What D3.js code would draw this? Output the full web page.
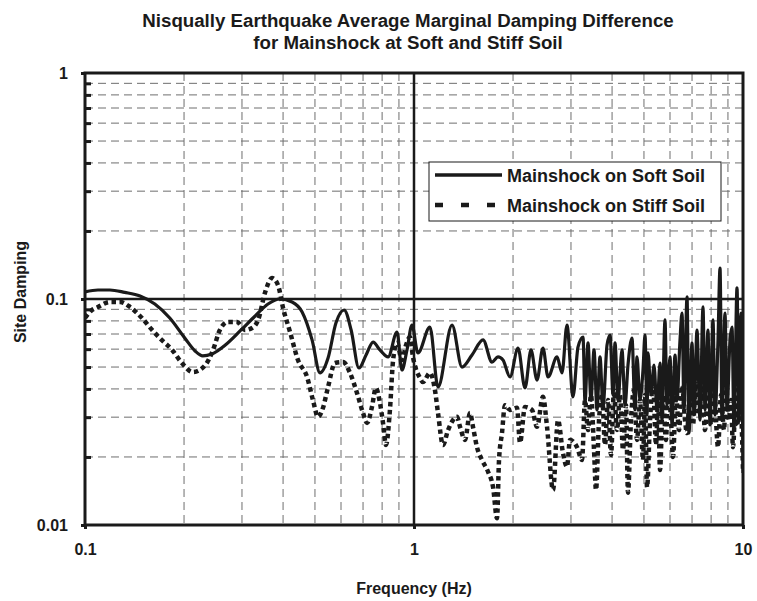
<!DOCTYPE html>
<html>
<head>
<meta charset="utf-8">
<script src="https://cdn.jsdelivr.net/npm/d3@7"></script>
<style>
  body { margin: 0; background: #fff; }
  svg { display: block; font-family: "Liberation Sans", Arial, sans-serif; }
</style>
</head>
<body>
<svg id="chart" width="757" height="601"></svg>
<script>
// ---------------- DATA ----------------
const titleLines = ["Nisqually Earthquake Average Marginal Damping Difference", "for Mainshock at Soft and Stiff Soil"];
const xAxisTitle = "Frequency (Hz)";
const yAxisTitle = "Site Damping";
const seriesNames = ["Mainshock on Soft Soil", "Mainshock on Stiff Soil"];
const xTickValues = [0.1, 1, 10];
const xTickLabels = ["0.1", "1", "10"];
const yTickValues = [0.01, 0.1, 1];
const yTickLabels = ["0.01", "0.1", "1"];
const xMinorValues = [0.2,0.3,0.4,0.5,0.6,0.7,0.8,0.9,2,3,4,5,6,7,8,9];
const yMinorValues = [0.02,0.03,0.04,0.05,0.06,0.07,0.08,0.09,0.2,0.3,0.4,0.5,0.6,0.7,0.8,0.9];

// Soft soil (solid)
const softFreq = [0.100,0.1095,0.119,0.132,0.147,0.163,0.181,0.201,0.216,0.228,0.243,0.267,0.296,0.329,0.360,0.391,0.426,0.457,0.490,0.518,0.548,0.579,0.613,0.644,0.680,0.715,0.751,0.788,0.834,0.888,0.919,0.952,0.986,1.028,1.118,1.183,1.305,1.399,1.501,1.621,1.726,1.800,1.864,1.958,2.071,2.175,2.268,2.365,2.466,2.555,2.721,2.818,2.917,3.043,3.151,
  3.264,3.310,3.380,3.451,3.525,3.599,3.676,3.754,3.861,3.943,4.027,4.083,4.169,4.288,4.379,4.471,4.598,4.696,4.762,4.864,4.966,5.037,5.109,5.145,5.254,5.364,5.478,5.595,5.673,5.793,5.875,6.001,6.085,6.214,6.302,6.435,6.526,6.618,6.758,6.853,6.998,7.097,7.247,7.402,7.558,7.664,7.827,7.939,8.106,8.221,8.395,8.514,8.635,8.816,8.941,9.131,9.261,9.389,9.590,9.723,9.861,10.0];
const softDamp = [0.1074,0.1096,0.1096,0.107,0.1031,0.0950,0.0824,0.0672,0.0589,0.0560,0.0571,0.0626,0.0722,0.0841,0.0950,0.100,0.0970,0.0876,0.0659,0.0471,0.0548,0.0783,0.0894,0.0729,0.0495,0.0565,0.0645,0.0595,0.0554,0.0714,0.0485,0.0595,0.0767,0.0577,0.0752,0.0408,0.0767,0.0500,0.0565,0.0659,0.0526,0.0554,0.0537,0.0452,0.0607,0.0404,0.0595,0.0438,0.0607,0.0452,0.0554,0.0471,0.0767,0.0369,0.0613,
  0.0679,0.0350,0.0639,0.0357,0.0595,0.0323,0.0554,0.0333,0.0626,0.0693,0.0376,0.0639,0.0357,0.0595,0.0339,0.0510,0.0672,0.0323,0.0554,0.0357,0.0485,0.0693,0.0307,0.0577,0.0376,0.0510,0.0323,0.0521,0.0291,0.0808,0.0339,0.0554,0.0277,0.0565,0.0357,0.0659,0.0867,0.0323,0.1021,0.0255,0.0639,0.0307,0.0729,0.0291,0.0922,0.0323,0.0729,0.0277,0.0808,0.0307,0.0659,0.1371,0.0291,0.0867,0.0323,0.0659,0.0752,0.0263,0.1119,0.0291,0.0867,0.0170];

// Stiff soil (dashed)
const stiffFreq = [0.100,0.105,0.1095,0.119,0.128,0.137,0.149,0.160,0.171,0.184,0.197,0.213,0.232,0.245,0.257,0.272,0.290,0.306,0.322,0.336,0.353,0.370,0.386,0.400,0.420,0.444,0.473,0.493,0.511,0.529,0.548,0.575,0.609,0.639,0.671,0.700,0.720,0.745,0.766,0.788,0.805,0.822,0.845,0.864,0.888,0.919,0.946,0.972,0.993,1.043,1.065,1.118,1.158,1.183,1.225,1.269,1.351,1.380,1.429,1.480,1.511,1.554,1.609,1.679,1.739,1.788,1.813,1.851,1.890,1.958,2.056,2.100,2.175,2.284,2.365,2.466,2.537,2.646,2.740,2.837,2.917,2.980,3.130,3.241,
  3.310,3.380,3.451,3.525,3.574,3.651,3.729,3.807,3.888,3.970,4.055,4.140,4.229,4.318,4.409,4.471,4.566,4.664,4.762,4.864,4.966,5.037,5.109,5.217,5.328,5.441,5.517,5.595,5.713,5.834,5.916,6.042,6.127,6.257,6.390,6.526,6.664,6.758,6.902,7.047,7.196,7.349,7.505,7.664,7.827,7.994,8.163,8.278,8.395,8.574,8.756,8.878,9.067,9.193,9.325,9.522,9.656,9.792,10.0];
const stiffDamp = [0.0824,0.0894,0.0922,0.0970,0.0970,0.0922,0.0824,0.0729,0.0659,0.0595,0.0521,0.0475,0.0510,0.0595,0.0729,0.0791,0.0791,0.0729,0.0744,0.0808,0.1074,0.1239,0.1153,0.0912,0.0714,0.0537,0.0452,0.0357,0.0301,0.0330,0.0408,0.0521,0.0526,0.0471,0.0384,0.0313,0.0283,0.0333,0.0404,0.0347,0.0283,0.0226,0.0323,0.0537,0.0639,0.0537,0.0626,0.0679,0.0554,0.0447,0.0429,0.0471,0.0395,0.0313,0.0226,0.0263,0.0301,0.0272,0.0238,0.0313,0.0272,0.0221,0.0194,0.0172,0.0147,0.0107,0.0194,0.0255,0.0339,0.0323,0.0330,0.0231,0.0333,0.0323,0.0272,0.0369,0.0272,0.0143,0.0291,0.0208,0.0181,0.0238,0.0221,0.0194,
  0.0357,0.0263,0.0376,0.0215,0.0143,0.0291,0.0376,0.0226,0.0357,0.0204,0.0395,0.0263,0.0376,0.0215,0.0339,0.0139,0.0291,0.0395,0.0238,0.0357,0.0194,0.0376,0.0147,0.0291,0.0416,0.0226,0.0357,0.0175,0.0376,0.0238,0.0416,0.0291,0.0200,0.0376,0.0263,0.0416,0.0291,0.0255,0.0395,0.0277,0.0438,0.0307,0.0416,0.0263,0.0395,0.0277,0.0438,0.0291,0.0221,0.0376,0.0263,0.0416,0.0291,0.0357,0.0221,0.0395,0.0277,0.0376,0.0175];

// ---------------- CHART ----------------
const plot = { left: 85, right: 743, top: 73, bottom: 525 };
const svg = d3.select("#chart");
const ink = "#1a1a1a";

const x = d3.scaleLog().domain([0.1, 10]).range([plot.left, plot.right]);
const y = d3.scaleLog().domain([0.01, 1]).range([plot.bottom, plot.top]);

const gridColor = "#6e6e6e";

// minor gridlines
svg.append("g").selectAll("line").data(xMinorValues).join("line")
  .attr("x1", d => x(d)).attr("x2", d => x(d))
  .attr("y1", plot.top).attr("y2", plot.bottom)
  .attr("stroke", gridColor).attr("stroke-width", 1).attr("stroke-dasharray", "8,5");
svg.append("g").selectAll("line").data(yMinorValues).join("line")
  .attr("x1", plot.left).attr("x2", plot.right)
  .attr("y1", d => y(d)).attr("y2", d => y(d))
  .attr("stroke", gridColor).attr("stroke-width", 1).attr("stroke-dasharray", "8,5");

// clip
svg.append("defs").append("clipPath").attr("id", "clip")
  .append("rect").attr("x", plot.left).attr("y", plot.top)
  .attr("width", plot.right - plot.left).attr("height", plot.bottom - plot.top);

const softData = softFreq.map((f, i) => [f, softDamp[i]]);
const stiffData = stiffFreq.map((f, i) => [f, stiffDamp[i]]);
const line = d3.line().x(d => x(d[0])).y(d => y(d[1])).curve(d3.curveMonotoneX);

const lines = svg.append("g").attr("clip-path", "url(#clip)");
lines.append("path").datum(stiffData).attr("d", line)
  .attr("fill", "none").attr("stroke", ink).attr("stroke-width", 4.5)
  .attr("stroke-dasharray", "4.5,3.5");
lines.append("path").datum(softData).attr("d", line)
  .attr("fill", "none").attr("stroke", ink).attr("stroke-width", 3.2)
  .attr("stroke-linejoin", "round");

// major inner lines
svg.append("line").attr("x1", x(1)).attr("x2", x(1)).attr("y1", plot.top).attr("y2", plot.bottom)
  .attr("stroke", ink).attr("stroke-width", 2.5);
svg.append("line").attr("x1", plot.left).attr("x2", plot.right).attr("y1", y(0.1)).attr("y2", y(0.1))
  .attr("stroke", ink).attr("stroke-width", 2.5);

// axes
const yAxis = d3.axisLeft(y).tickValues(yTickValues)
  .tickFormat((d, i) => yTickLabels[i]).tickSize(4).tickPadding(13);
const gy = svg.append("g").attr("transform", `translate(${plot.left},0)`).call(yAxis);
const yMinorAxis = d3.axisLeft(y).tickValues(yMinorValues).tickFormat("").tickSize(-6);
const gym = svg.append("g").attr("transform", `translate(${plot.left},0)`).call(yMinorAxis);
const xAxis = d3.axisBottom(x).tickValues(xTickValues)
  .tickFormat((d, i) => xTickLabels[i]).tickSize(4).tickPadding(15);
const gx = svg.append("g").attr("transform", `translate(0,${plot.bottom})`).call(xAxis);

[gy, gym, gx].forEach(g => {
  g.select(".domain").remove();
  g.selectAll(".tick line").attr("stroke", ink).attr("stroke-width", 3);
  g.selectAll("text").attr("fill", ink).attr("font-size", 16).attr("font-weight", "bold")
    .attr("font-family", "'Liberation Sans', Arial, sans-serif");
});

// frame
svg.append("rect").attr("x", plot.left).attr("y", plot.top)
  .attr("width", plot.right - plot.left).attr("height", plot.bottom - plot.top)
  .attr("fill", "none").attr("stroke", ink).attr("stroke-width", 3);

// legend
const lg = svg.append("g").attr("transform", "translate(429,162)");
lg.append("rect").attr("width", 292).attr("height", 59).attr("fill", "#fff")
  .attr("stroke", ink).attr("stroke-width", 1);
const legendItems = [
  { name: seriesNames[0], dash: null, w: 3.5 },
  { name: seriesNames[1], dash: "8,18", w: 4.5 }
];
legendItems.forEach((it, i) => {
  const yy = 13 + i * 30;
  const l = lg.append("line").attr("x1", 6).attr("x2", 73).attr("y1", yy).attr("y2", yy)
    .attr("stroke", ink).attr("stroke-width", it.w);
  if (it.dash) l.attr("stroke-dasharray", it.dash);
  lg.append("text").attr("x", 78).attr("y", yy + 6.5).text(it.name)
    .attr("font-size", 18).attr("font-weight", "bold").attr("fill", ink);
});

// titles
titleLines.forEach((t, i) => {
  svg.append("text").attr("x", 408).attr("y", 27 + i * 22).attr("text-anchor", "middle")
    .attr("font-size", 18.7).attr("font-weight", "bold").attr("fill", ink).text(t);
});
svg.append("text").attr("x", 414).attr("y", 594).attr("text-anchor", "middle")
  .attr("font-size", 16).attr("font-weight", "bold").attr("fill", ink).text(xAxisTitle);
svg.append("text").attr("transform", "translate(26,292) rotate(-90)").attr("text-anchor", "middle")
  .attr("font-size", 16).attr("font-weight", "bold").attr("fill", ink).text(yAxisTitle);
</script>
</body>
</html>
